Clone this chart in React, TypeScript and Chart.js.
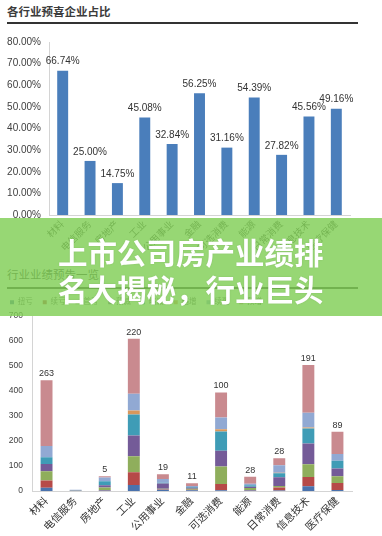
import React, { useEffect, useRef } from 'react';
import { Chart, registerables } from 'chart.js';

Chart.register(...registerables);

// ---------- data ----------
const categories = ['材料', '电信服务', '房地产', '工业', '公用事业', '金融', '可选消费', '能源', '日常消费', '信息技术', '医疗保健'];

// top chart: share of companies with positive forecasts (%)
const shareValues = [66.74, 25.0, 14.75, 45.08, 32.84, 56.25, 31.16, 54.39, 27.82, 45.56, 49.16];
const shareMax = 80;
const shareStep = 10;

// bottom chart: stacked forecast types per industry
const seriesNames = ['扭亏', '续亏', '首亏', '预减', '略减', '略增', '续盈', '预增'];
const s1 = [13, 1, 2, 24, 5, 3, 3, 2, 2, 19, 4];
const s2 = [29, 0, 2, 51, 2, 2, 25, 2, 12, 37, 28];
const s3 = [37, 1, 10, 64, 2, 4, 70, 8, 6, 51, 27];
const s4 = [29, 1, 9, 83, 21, 4, 63, 5, 35, 83, 31];
const s5 = [27, 0, 16, 84, 3, 3, 77, 6, 16, 60, 31];
const s6 = [0, 0, 0, 16, 0, 0, 9, 0, 2, 4, 0];
const s7 = [45, 2, 15, 67, 15, 4, 47, 6, 30, 59, 27];
const s8 = [263, 0, 5, 220, 19, 11, 100, 28, 28, 191, 89];
const countMax = 700;
const countStep = 100;

const topTitle = '各行业预喜企业占比';
const bottomTitle = '行业业绩预告一览';
const bannerLines = ['上市公司房产业绩排', '名大揭秘，行业巨头'];

const seriesColors = ['#4a72ad', '#b64a48', '#8fae5c', '#745b98', '#3f9cb6', '#d8975c', '#91a9d3', '#c98a8f'];
const seriesData = [s1, s2, s3, s4, s5, s6, s7, s8];

const FONT = '"Liberation Sans", "Noto Sans CJK SC", sans-serif';

const barLabels = {
  id: 'barLabels',
  afterDatasetsDraw(chart: any, _args: any, opts: any) {
    const { ctx } = chart;
    const dsIndex = chart.data.datasets.length - 1;
    const meta = chart.getDatasetMeta(dsIndex);
    const data = chart.data.datasets[dsIndex].data;
    ctx.save();
    ctx.font = `${opts.size}px ${FONT}`;
    ctx.fillStyle = opts.color;
    ctx.textAlign = 'center';
    ctx.textBaseline = 'bottom';
    meta.data.forEach((el: any, i: number) => {
      const v = data[i];
      if (!v) return;
      const txt = opts.percent ? v.toFixed(2) + '%' : String(v);
      ctx.fillText(txt, el.x, el.y - opts.offset);
    });
    ctx.restore();
  },
};

export default function App() {
  const topRef = useRef<HTMLCanvasElement>(null);
  const botRef = useRef<HTMLCanvasElement>(null);

  useEffect(() => {
    const top = new Chart(topRef.current!, {
      type: 'bar',
      data: {
        labels: categories,
        datasets: [
          {
            data: shareValues,
            backgroundColor: '#4a7ebb',
            barPercentage: 0.4,
            categoryPercentage: 1,
          },
        ],
      },
      options: {
        responsive: false,
        animation: false,
        layout: { padding: { top: 11, right: 32, left: 0, bottom: 0 } },
        plugins: {
          legend: { display: false },
          tooltip: { enabled: false },
          barLabels: { size: 10, color: '#333333', offset: 4, percent: true },
        } as any,
        scales: {
          x: {
            grid: { display: false, drawTicks: false },
            border: { display: true, color: '#d4d4d4', width: 1 },
            ticks: {
              autoSkip: false,
              minRotation: 45,
              maxRotation: 45,
              padding: 4,
              color: '#404040',
              font: { family: FONT, size: 9.5 },
            },
            afterFit: (s: any) => {
              s.height = 35;
            },
          },
          y: {
            min: 0,
            max: shareMax,
            grid: { display: false, drawTicks: false },
            border: { display: true, color: '#d4d4d4', width: 1 },
            ticks: {
              stepSize: shareStep,
              padding: 8,
              color: '#404040',
              font: { family: FONT, size: 10 },
              callback: (v: any) => Number(v).toFixed(2) + '%',
            },
            afterFit: (s: any) => {
              s.width = 49;
            },
          },
        },
      },
      plugins: [barLabels],
    });

    const bot = new Chart(botRef.current!, {
      type: 'bar',
      data: {
        labels: categories,
        datasets: seriesNames.map((name, i) => ({
          label: name,
          data: seriesData[i],
          backgroundColor: seriesColors[i],
          barPercentage: 0.41,
          categoryPercentage: 1,
        })),
      },
      options: {
        responsive: false,
        animation: false,
        layout: { padding: { top: 4, right: 30, left: 0, bottom: 0 } },
        plugins: {
          legend: {
            display: true,
            position: 'top',
            align: 'start',
            labels: {
              boxWidth: 4,
              boxHeight: 4,
              padding: 10,
              color: '#595959',
              font: { family: FONT, size: 7.5 },
            },
          },
          tooltip: { enabled: false },
          barLabels: { size: 9, color: '#333333', offset: 2, percent: false },
        } as any,
        scales: {
          x: {
            stacked: true,
            grid: { display: false, drawTicks: false },
            border: { display: true, color: '#d4d4d4', width: 1 },
            ticks: {
              autoSkip: false,
              minRotation: 45,
              maxRotation: 45,
              padding: 4,
              color: '#333333',
              font: { family: FONT, size: 10.5 },
            },
            afterFit: (s: any) => {
              s.height = 45;
            },
          },
          y: {
            stacked: true,
            min: 0,
            max: countMax,
            grid: { display: false, drawTicks: false },
            border: { display: true, color: '#d4d4d4', width: 1 },
            ticks: {
              stepSize: countStep,
              padding: 9,
              color: '#404040',
              font: { family: FONT, size: 8.5 },
            },
            afterFit: (s: any) => {
              s.width = 32;
              s.paddingTop = 36;
            },
          },
        },
      },
      plugins: [barLabels],
    });

    return () => {
      top.destroy();
      bot.destroy();
    };
  }, []);

  return (
    <div
      style={{
        position: 'absolute',
        left: 0,
        top: 0,
        width: 382,
        height: 536,
        background: '#ffffff',
        overflow: 'hidden',
        fontFamily: FONT,
      }}
    >
      <div
        style={{
          position: 'absolute',
          left: 7,
          top: 3,
          fontSize: 11.5,
          lineHeight: '17px',
          fontWeight: 700,
          color: '#3c3c3c',
          fontFamily: '"Noto Sans CJK SC", sans-serif',
          whiteSpace: 'nowrap',
        }}
      >
        {topTitle}
      </div>
      <div style={{ position: 'absolute', left: 7, top: 22, width: 351, height: 1.5, background: '#333333' }} />
      <canvas ref={topRef} width={382} height={222} style={{ position: 'absolute', left: 0, top: 28, display: 'block' }} />

      <div
        style={{
          position: 'absolute',
          left: 7,
          top: 266,
          fontSize: 11.5,
          lineHeight: '17px',
          color: '#3c3c3c',
          fontFamily: '"Noto Sans CJK SC", sans-serif',
          whiteSpace: 'nowrap',
        }}
      >
        {bottomTitle}
      </div>
      <div style={{ position: 'absolute', left: 7, top: 287, width: 351, height: 1.5, background: '#333333' }} />
      <canvas ref={botRef} width={382} height={256} style={{ position: 'absolute', left: 0, top: 280, display: 'block' }} />

      <div
        style={{
          position: 'absolute',
          left: 0,
          top: 218,
          width: 382,
          height: 98,
          background: 'rgba(128, 206, 86, 0.82)',
        }}
      >
        <div
          style={{
            position: 'absolute',
            left: 58,
            top: 15,
            fontFamily: '"Noto Sans CJK SC", sans-serif',
            fontWeight: 700,
            fontSize: 29.5,
            lineHeight: '37px',
            color: '#ffffff',
            whiteSpace: 'nowrap',
            textShadow: '0 0 2px rgba(0,0,0,0.12)',
          }}
        >
          {bannerLines.map((l) => (
            <div key={l}>{l}</div>
          ))}
        </div>
      </div>
    </div>
  );
}
